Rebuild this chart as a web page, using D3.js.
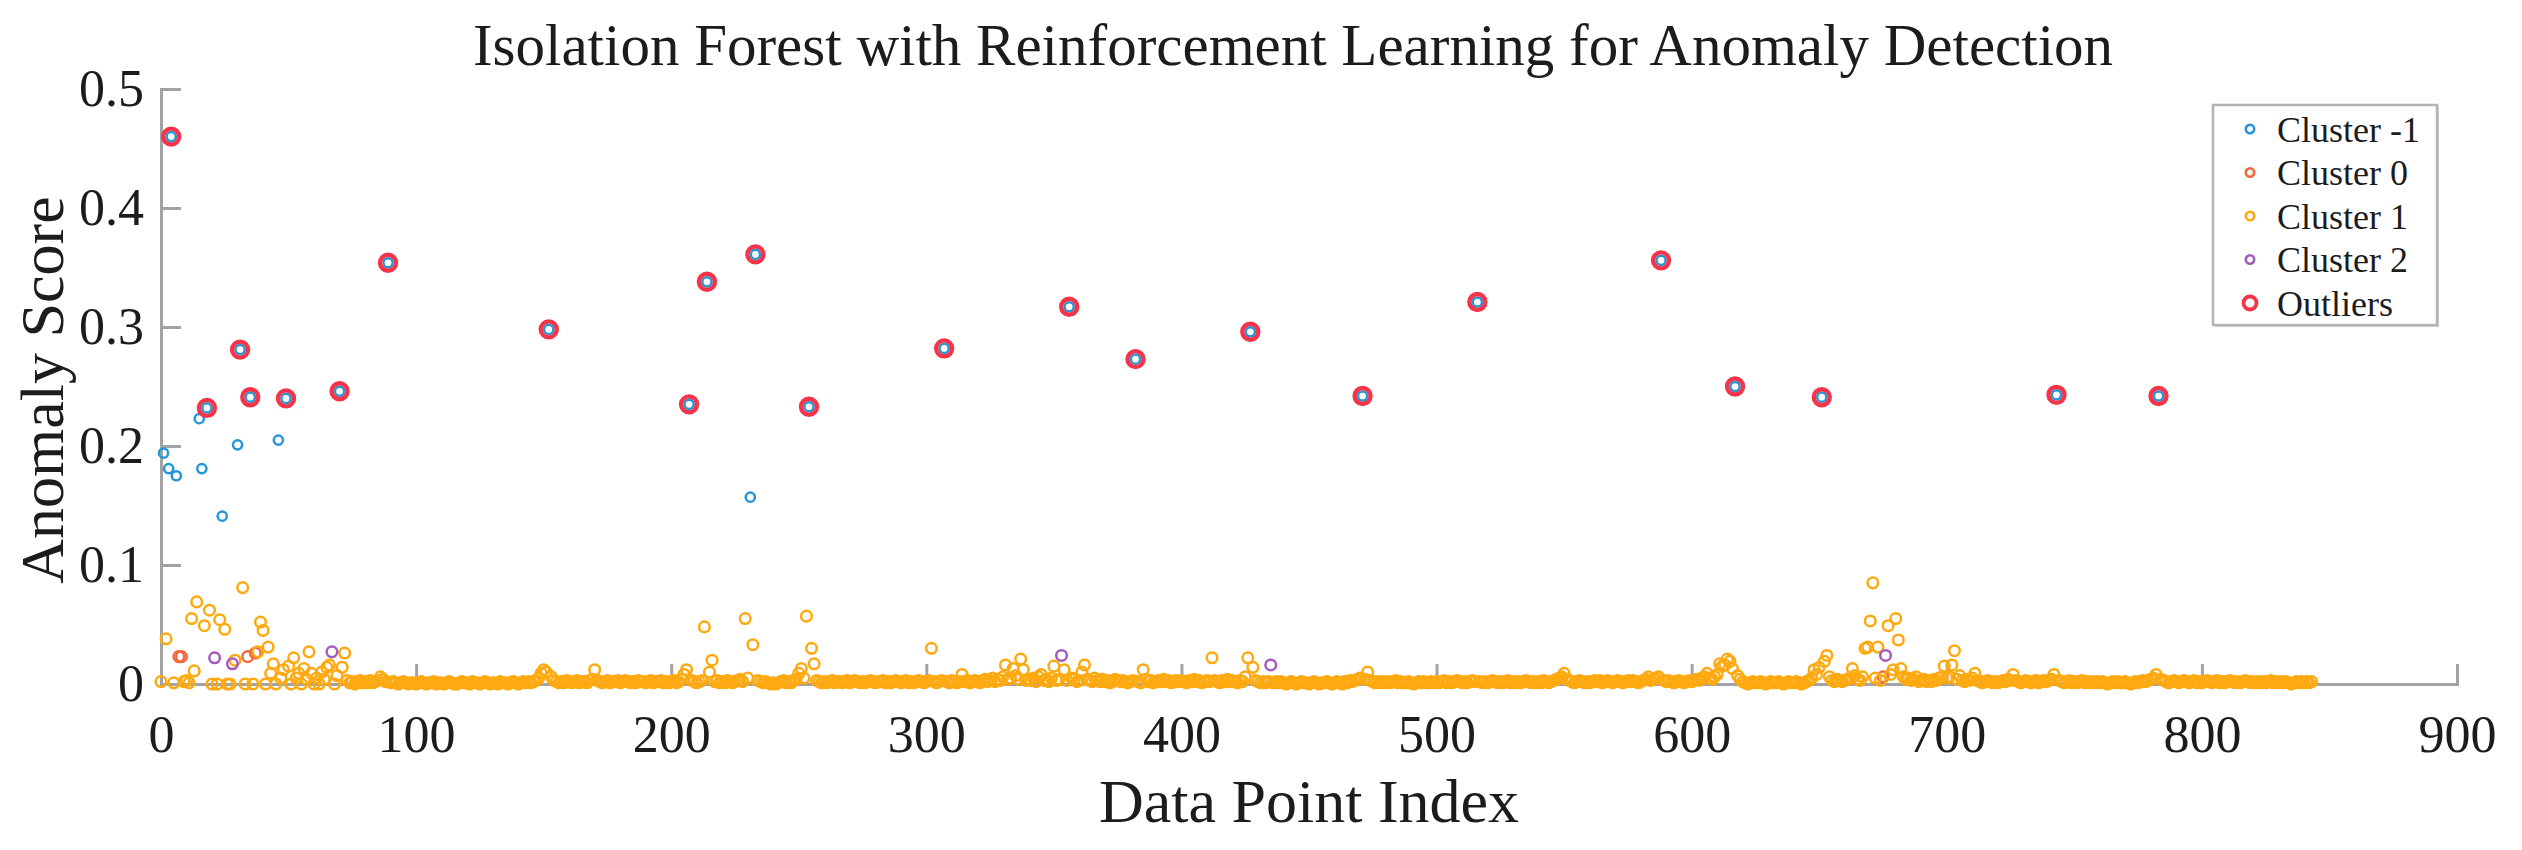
<!DOCTYPE html>
<meta charset="utf-8">
<style>

body {
  margin: 0;
  background: #fff;
}

text {
  font-family: "Liberation Serif", "Times New Roman", serif;
  fill: #1c1c1c;
}

.axis path,
.axis line {
  stroke: #a3a3a3;
  stroke-width: 3px;
}

</style>
<svg></svg>
<script src="https://d3js.org/d3.v7.min.js"></script>
<script>

var width = 2522,
    height = 850;

var titleText = "Isolation Forest with Reinforcement Learning for Anomaly Detection",
    xLabel = "Data Point Index",
    yLabel = "Anomaly Score";

var xTicks = [0, 100, 200, 300, 400, 500, 600, 700, 800, 900],
    yTicks = [0, 0.1, 0.2, 0.3, 0.4, 0.5],
    yTickLabels = ["0", "0.1", "0.2", "0.3", "0.4", "0.5"];

var seriesNames = ["Cluster -1", "Cluster 0", "Cluster 1", "Cluster 2", "Outliers"],
    seriesColors = ["#2596d6", "#f2683a", "#ffa910", "#a45bbd", "#f5344a"];

// anomaly score of every data point (index 0..843), in thousandths
var scoreMilli = [
  2,194,38,181,460,1,175,23,23,2, 3,1,55,11,69,223,181,49,232,62,
  0,22,0,54,141,46,0,0,17,20, 201,281,81,0,23,241,0,26,27,52,
  45,0,31,9,17,0,205,5,12,240, 15,0,22,5,9,0,13,4,27,9,
  0,5,0,10,4,14,16,27,0,7, 246,14,26,3,1,2,0,2,3,1,
  2,1,3,1,2,3,6,4,2,354, 1,2,1,0,1,2,1,0,1,1,
  0,1,2,1,0,1,1,2,0,1, 1,0,1,2,1,0,0,1,2,1,
  1,0,2,1,1,0,1,2,1,0, 1,1,0,2,1,1,0,1,2,1,
  0,1,2,1,2,1,2,3,5,9, 12,10,298,6,3,2,1,2,1,3,
  2,1,2,3,1,2,2,1,3,4, 12,3,2,1,2,3,1,2,2,3,
  1,2,3,2,1,2,1,3,2,2, 1,2,3,1,2,2,3,1,2,1,
  2,3,1,2,4,8,12,235,3,2, 1,2,3,48,338,10,20,2,3,1,
  2,1,3,2,1,2,3,4,2,55, 5,157,33,361,3,2,1,2,1,0,
  1,0,1,2,3,1,2,1,3,4, 9,13,5,57,233,30,17,3,2,1,
  2,1,2,3,1,2,2,1,2,3, 1,2,3,2,1,2,1,2,3,2,
  1,2,2,3,1,2,1,2,3,2, 1,2,3,1,2,1,2,3,2,1,
  2,3,30,2,1,2,3,282,2,1, 3,2,1,2,8,2,3,1,2,3,
  2,1,3,4,2,3,5,2,4,3, 6,16,4,5,13,7,4,21,12,3,
  4,3,5,2,6,8,3,4,2,5, 15,3,4,24,12,3,317,5,4,2,
  3,10,16,4,3,2,5,3,2,4, 2,3,1,2,4,3,2,3,2,1,
  2,3,273,2,1,12,4,2,3,1, 2,3,2,4,2,3,1,2,3,2,
  3,2,1,3,2,4,2,3,1,2, 3,2,22,3,2,1,3,2,4,2,
  3,2,1,3,2,6,22,296,14,3, 2,1,2,1,2,16,1,2,1,2,
  1,0,1,2,1,0,1,2,1,1, 0,1,2,1,0,1,1,2,1,0,
  1,2,1,0,2,1,3,2,3,4, 5,242,4,10,3,2,1,2,1,2,
  1,2,1,2,3,1,2,1,1,2, 1,0,1,2,1,2,1,1,2,1,
  2,1,2,3,1,2,1,2,3,2, 1,2,1,2,3,2,321,2,1,2,
  1,2,3,2,1,2,1,2,3,1, 2,1,2,1,2,3,2,1,2,1,
  2,1,3,2,1,2,3,4,5,6, 9,4,3,2,1,2,3,2,1,2,
  1,2,3,2,3,1,2,3,2,1, 2,3,2,1,2,3,2,3,2,1,
  2,3,4,6,3,4,5,6,356,3, 2,3,2,1,2,3,2,1,2,3,
  2,3,4,3,5,6,9,5,4,6, 8,17,15,16,21,19,13,250,7,4,
  2,1,0,1,2,1,1,2,1,0, 1,2,1,1,2,1,0,1,2,1,
  1,2,1,0,1,2,3,5,12,8, 14,241,19,24,6,3,2,4,3,2,
  3,4,5,13,7,4,3,6,30,31, 53,85,5,31,3,6,24,49,8,12,
  55,37,13,6,4,5,3,4,6,2, 3,4,2,3,2,4,3,5,6,15,
  5,6,16,28,4,7,3,2,4,3, 5,9,3,2,1,2,3,2,1,2,
  1,2,3,2,4,3,8,3,2,1, 2,3,2,1,2,3,1,2,3,2,
  3,4,8,243,3,2,1,2,3,1, 2,1,2,3,1,2,1,2,1,2,
  1,2,1,0,1,2,1,2,1,1, 2,1,0,1,2,1,2,3,2,3,
  4,5,8,242,4,3,2,1,2,3, 2,1,2,3,2,1,2,3,1,2,
  1,2,3,2,1,2,3,1,2,1, 2,3,2,1,2,1,2,3,2,1,
  2,1,2,1,2,1,2,3,1,2, 1,2,1,2,1,0,1,2,1,2,
  1,2,1,2
];

// cluster labels (every index not listed here is cluster 1)
var clusterM1Idx = [1, 3, 6, 15, 16, 24, 30, 46, 231],
    cluster0Idx = [7, 8, 34, 37, 675],
    cluster2Idx = [21, 28, 67, 353, 435, 676];

// outliers, all of them in cluster -1
var outlierIdx = [4, 18, 31, 35, 49, 70, 89, 152, 207, 214, 233, 254, 307, 356,
                  382, 427, 471, 516, 588, 617, 651, 743, 783];

var svg = d3.select("svg")
    .attr("width", width)
    .attr("height", height);

var x = d3.scaleLinear()
    .domain([0, 900])
    .range([161, 2457]);

var y = d3.scaleLinear()
    .domain([0, 0.5])
    .range([684, 89]);

function point(i) { return {i: i, s: scoreMilli[i] / 1000}; }

var taken = {};
clusterM1Idx.concat(cluster0Idx, cluster2Idx, outlierIdx).forEach(function(i) { taken[i] = true; });

var groups = [
  clusterM1Idx.concat(outlierIdx).map(point),
  cluster0Idx.map(point),
  d3.range(scoreMilli.length).filter(function(i) { return !taken[i]; }).map(point),
  cluster2Idx.map(point)
];

// axes
svg.append("g")
    .attr("class", "axis")
    .attr("transform", "translate(0," + y(0) + ")")
    .call(d3.axisBottom(x).tickValues(xTicks).tickSize(-20).tickSizeOuter(0).tickPadding(31))
    .call(function(g) {
      g.selectAll("text").attr("font-size", 52).attr("font-family", null);
    });

svg.append("g")
    .attr("class", "axis")
    .attr("transform", "translate(" + x(0) + ",0)")
    .call(d3.axisLeft(y).tickValues(yTicks).tickSize(-20).tickSizeOuter(0).tickPadding(17)
      .tickFormat(function(d, i) { return yTickLabels[i]; }))
    .call(function(g) {
      g.selectAll("text").attr("font-size", 52).attr("font-family", null);
    });

svg.selectAll(".axis path").attr("stroke-linecap", "square");

// points
var plot = svg.append("g");

groups.forEach(function(data, k) {
  plot.append("g")
    .selectAll("circle")
    .data(data)
    .join("circle")
      .attr("cx", function(d) { return x(d.i); })
      .attr("cy", function(d) { return y(d.s); })
      .attr("r", k === 0 ? 4.6 : 5.3)
      .attr("fill", "none")
      .attr("stroke", seriesColors[k])
      .attr("stroke-width", 2.5);
});

plot.append("g")
  .selectAll("circle")
  .data(outlierIdx.map(point))
  .join("circle")
    .attr("cx", function(d) { return x(d.i); })
    .attr("cy", function(d) { return y(d.s); })
    .attr("r", 8)
    .attr("fill", "none")
    .attr("stroke", seriesColors[4])
    .attr("stroke-width", 4.4);

// titles
svg.append("text")
    .attr("x", 1293)
    .attr("y", 65)
    .attr("text-anchor", "middle")
    .attr("font-size", 59)
    .text(titleText);

svg.append("text")
    .attr("x", 1309)
    .attr("y", 822)
    .attr("text-anchor", "middle")
    .attr("font-size", 62)
    .text(xLabel);

svg.append("text")
    .attr("transform", "translate(63,390) rotate(-90)")
    .attr("text-anchor", "middle")
    .attr("font-size", 62)
    .text(yLabel);

// legend
var legend = svg.append("g")
    .attr("transform", "translate(2213,105)");

legend.append("rect")
    .attr("x", 2).attr("y", 2)
    .attr("width", 224).attr("height", 220)
    .attr("fill", "#d0d0d0");

legend.append("rect")
    .attr("width", 224).attr("height", 220)
    .attr("fill", "#fff")
    .attr("stroke", "#b4b4b4")
    .attr("stroke-width", 2.5);

var item = legend.selectAll(".item")
    .data(seriesNames)
    .join("g")
      .attr("class", "item")
      .attr("transform", function(d, i) { return "translate(0," + (24 + i * 43.5) + ")"; });

item.append("circle")
    .attr("cx", 37)
    .attr("r", function(d, i) { return i === 4 ? 6.5 : 4.2; })
    .attr("fill", "none")
    .attr("stroke", function(d, i) { return seriesColors[i]; })
    .attr("stroke-width", function(d, i) { return i === 4 ? 3.8 : 2.6; });

item.append("text")
    .attr("x", 64)
    .attr("dy", "0.35em")
    .attr("font-size", 36)
    .text(function(d) { return d; });

</script>
